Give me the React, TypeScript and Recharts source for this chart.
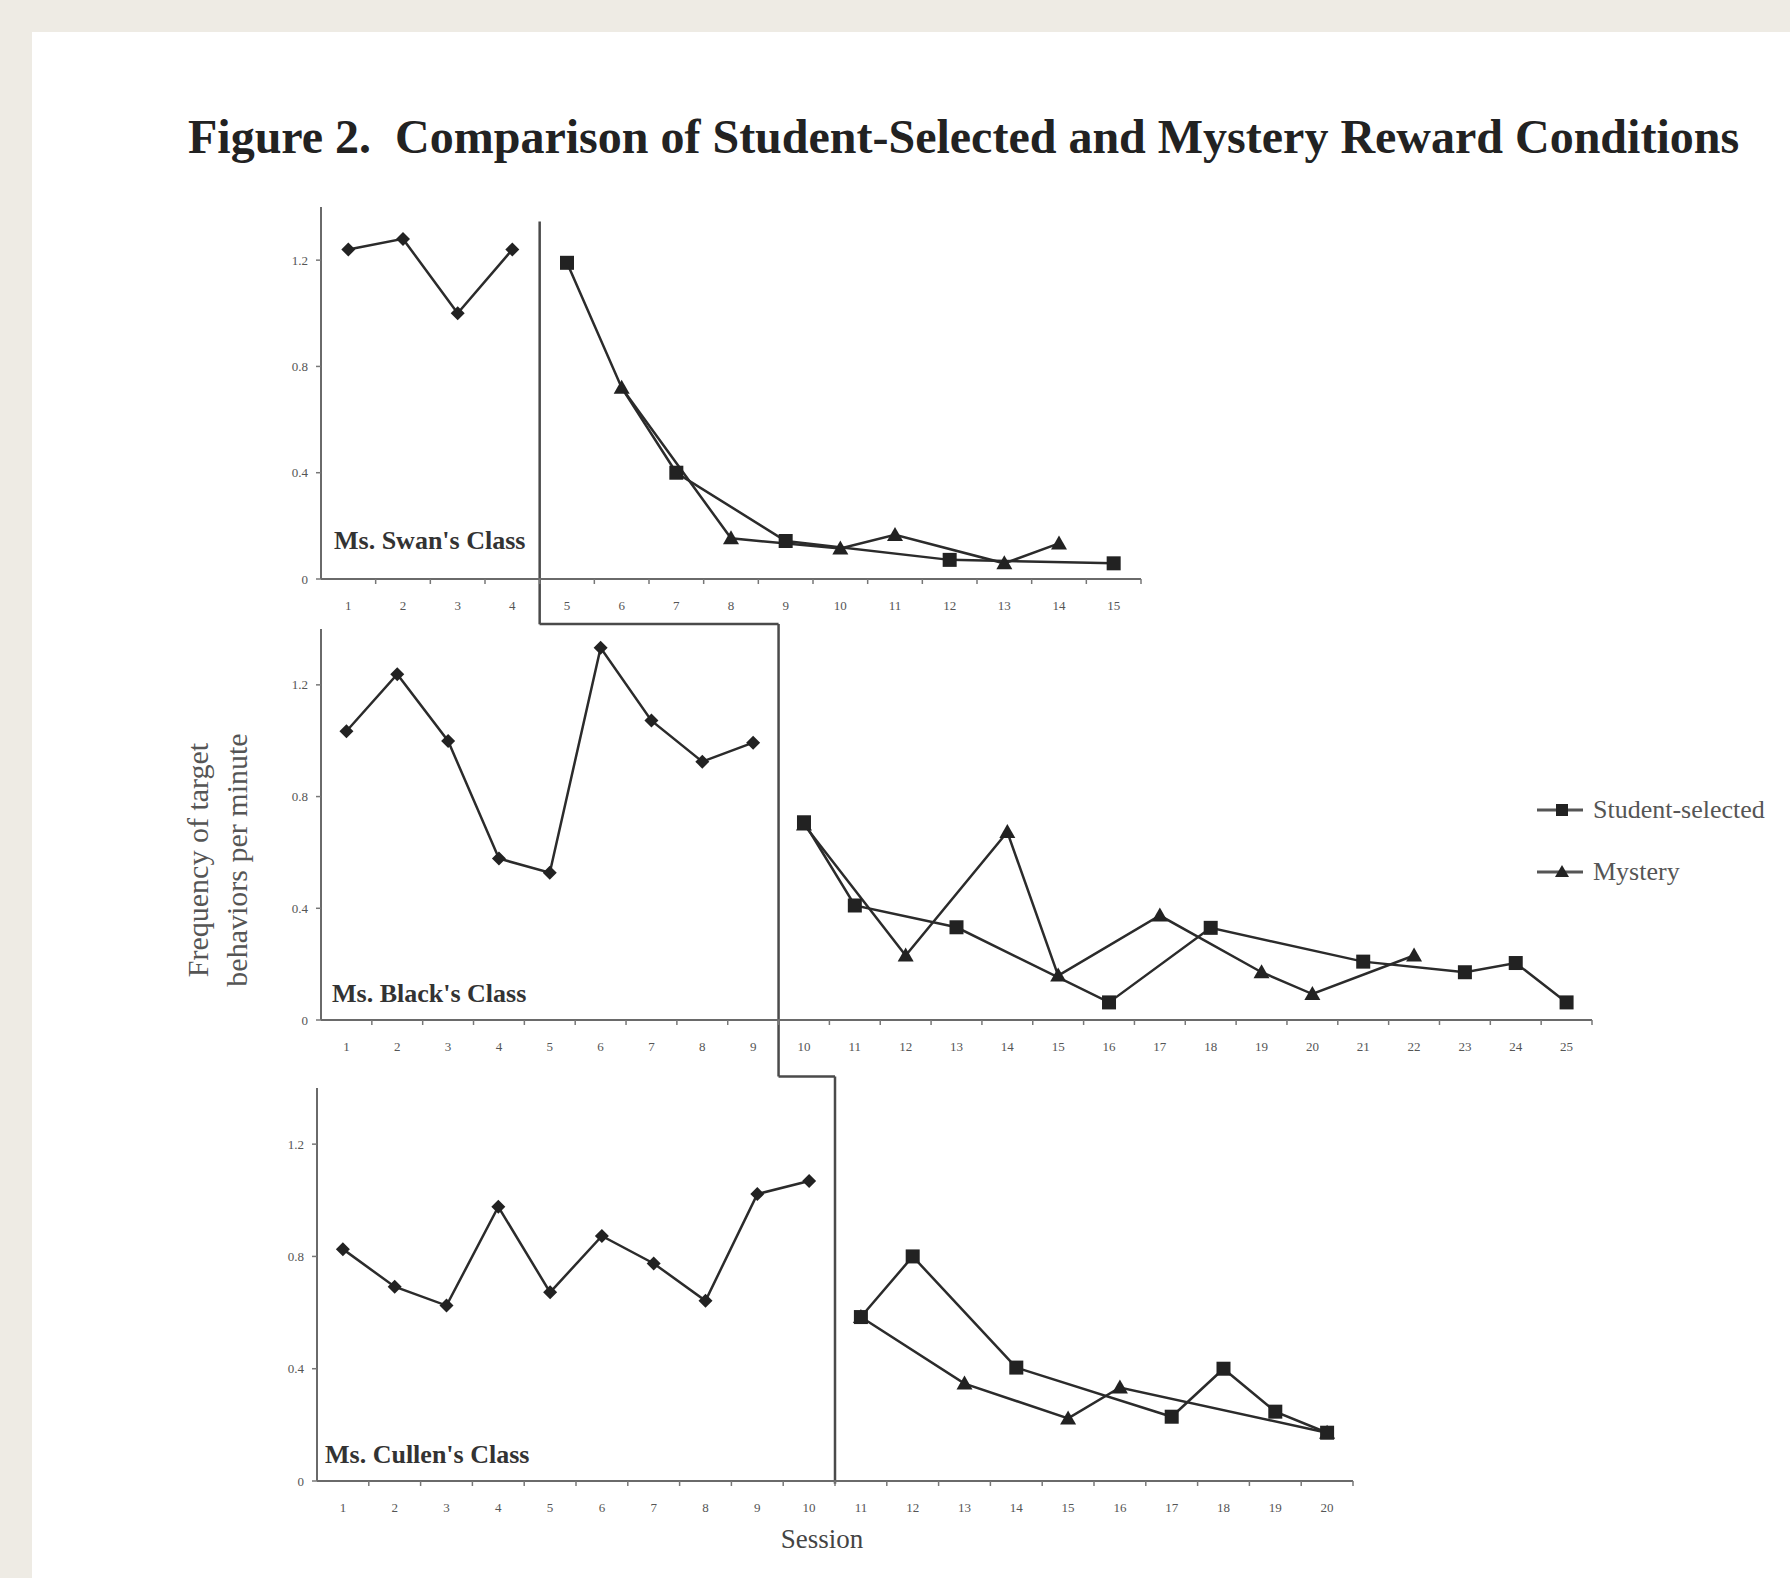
import { LineChart, Line, XAxis, YAxis, ReferenceLine, Legend, Label } from 'recharts'

const PAGE_W = 1790
const PAGE_H = 1578
const FONT = '"Liberation Serif", "DejaVu Serif", serif'
const INK = '#2b2b2b'

// ---- data ----
const swanSessions = [1, 2, 3, 4, 5, 6, 7, 8, 9, 10, 11, 12, 13, 14, 15]
const swanBaseline = [1.24, 1.28, 1.0, 1.24, null, null, null, null, null, null, null, null, null, null, null]
const swanStudent = [null, null, null, null, 1.19, 0.72, 0.4, null, 0.143, null, null, 0.072, null, null, 0.059]
const swanMystery = [null, null, null, null, null, 0.72, null, 0.153, null, 0.115, 0.166, null, 0.059, 0.134, null]

const blackSessions = [1, 2, 3, 4, 5, 6, 7, 8, 9, 10, 11, 12, 13, 14, 15, 16, 17, 18, 19, 20, 21, 22, 23, 24, 25]
const blackBaseline = [1.034, 1.238, 0.999, 0.578, 0.527, 1.333, 1.072, 0.925, 0.993, null, null, null, null, null, null, null, null, null, null, null, null, null, null, null, null]
const blackStudent = [null, null, null, null, null, null, null, null, null, 0.708, 0.41, null, 0.332, null, null, 0.063, null, 0.33, null, null, 0.209, null, 0.171, 0.204, 0.063]
const blackMystery = [null, null, null, null, null, null, null, null, null, 0.7, null, 0.231, null, 0.673, 0.159, null, 0.374, null, 0.171, 0.093, null, 0.231, null, null, null]

const cullenSessions = [1, 2, 3, 4, 5, 6, 7, 8, 9, 10, 11, 12, 13, 14, 15, 16, 17, 18, 19, 20]
const cullenBaseline = [0.826, 0.692, 0.625, 0.977, 0.672, 0.873, 0.775, 0.642, 1.022, 1.069, null, null, null, null, null, null, null, null, null, null]
const cullenStudent = [null, null, null, null, null, null, null, null, null, null, 0.584, 0.8, null, 0.404, null, null, 0.229, 0.4, 0.247, 0.172]
const cullenMystery = [null, null, null, null, null, null, null, null, null, null, 0.584, null, 0.347, null, 0.223, 0.333, null, null, null, 0.172]

const yTicks = [0, 0.4, 0.8, 1.2]

// phase-change line pieces, in each panel's own data units
const swanPhase = [[{ x: 4.5, y: 1.345 }, { x: 4.5, y: -0.17 }]]
const blackPhase = [
  [{ x: 4.8, y: 1.418 }, { x: 9.5, y: 1.418 }],
  [{ x: 9.5, y: 1.418 }, { x: 9.5, y: -0.2025 }],
]
const cullenPhase = [
  [{ x: 9.41, y: 1.441 }, { x: 10.5, y: 1.441 }],
  [{ x: 10.5, y: 1.441 }, { x: 10.5, y: -0.01 }],
]

const legendItems = [
  { name: 'Student-selected', shape: 'square' },
  { name: 'Mystery', shape: 'triangle' },
]

const buildRows = (sessions, baseline, student, mystery) =>
  sessions.map((s, i) => ({ session: s, baseline: baseline[i], student: student[i], mystery: mystery[i] }))

// ---- markers ----
const squareDot = (p) =>
  p.cx == null || p.cy == null ? (
    <g key={`s-${p.index}`} />
  ) : (
    <rect key={`s-${p.index}`} x={p.cx - 7} y={p.cy - 7} width={14} height={14} fill="#222" />
  )

// top panel: where both conditions share a session the triangle is what shows
const squareUnlessShared = (p) =>
  p.payload && p.payload.mystery != null ? <g key={`s-${p.index}`} /> : squareDot(p)

const triangleDot = (p) =>
  p.cx == null || p.cy == null ? (
    <g key={`t-${p.index}`} />
  ) : (
    <polygon
      key={`t-${p.index}`}
      points={`${p.cx},${p.cy - 8} ${p.cx - 8},${p.cy + 6} ${p.cx + 8},${p.cy + 6}`}
      fill="#222"
    />
  )

const diamondDot = (p) =>
  p.cx == null || p.cy == null ? (
    <g key={`d-${p.index}`} />
  ) : (
    <polygon
      key={`d-${p.index}`}
      points={`${p.cx},${p.cy - 7} ${p.cx + 7},${p.cy} ${p.cx},${p.cy + 7} ${p.cx - 7},${p.cy}`}
      fill="#222"
    />
  )

function SessionTick({ x, y, payload, half }) {
  return (
    <g>
      <line x1={x + half} y1={y} x2={x + half} y2={y + 5} stroke="#777" strokeWidth={1.5} />
      <text x={x} y={y + 31} textAnchor="middle" fontSize={13} fill="#555" fontFamily={FONT}>
        {payload.value}
      </text>
    </g>
  )
}

function LegendBox() {
  return (
    <div style={{ fontFamily: FONT }}>
      {legendItems.map((item) => (
        <div key={item.name} style={{ display: 'flex', alignItems: 'center', height: 62 }}>
          <svg width={50} height={30}>
            <line x1={2} y1={15} x2={48} y2={15} stroke="#555" strokeWidth={3} />
            {item.shape === 'square' ? (
              <rect x={21} y={9} width={12} height={12} fill="#222" />
            ) : (
              <polygon points="27,8 20,20 34,20" fill="#222" />
            )}
          </svg>
          <span style={{ marginLeft: 8, fontSize: 26, color: '#555', whiteSpace: 'nowrap' }}>{item.name}</span>
        </div>
      ))}
    </div>
  )
}

type PanelProps = {
  sessions: number[]
  rows: any[]
  phase: { x: number; y: number }[][]
  top: number
  height: number
  marginTop: number
  marginBottom: number
  plotLeft: number
  plotRight: number
  xAxisHeight?: number
  withLegend?: boolean
  withSessionLabel?: boolean
  triangleWins?: boolean
}

function Panel({
  sessions,
  rows,
  phase,
  top,
  height,
  marginTop,
  marginBottom,
  plotLeft,
  plotRight,
  xAxisHeight = 30,
  withLegend,
  withSessionLabel,
  triangleWins,
}: PanelProps) {
  const yAxisWidth = 60
  const half = (plotRight - plotLeft) / sessions.length / 2

  return (
    <div style={{ position: 'absolute', left: 0, top }}>
      <LineChart
        width={PAGE_W}
        height={height}
        data={rows}
        margin={{ top: marginTop, right: PAGE_W - plotRight, bottom: marginBottom, left: plotLeft - yAxisWidth }}
      >
        <XAxis
          dataKey="session"
          type="number"
          domain={[0.5, sessions.length + 0.5]}
          ticks={sessions}
          interval={0}
          allowDataOverflow
          height={xAxisHeight}
          tickLine={false}
          tickSize={0}
          tickMargin={0}
          axisLine={{ stroke: '#6a6a6a', strokeWidth: 2 }}
          tick={(p) => <SessionTick {...p} half={half} />}
        >
          {withSessionLabel && (
            <Label
              value="Session"
              position="insideBottom"
              offset={3}
              dx={-13}
              style={{ fontFamily: FONT, fontSize: 27, fill: '#444' }}
            />
          )}
        </XAxis>
        <YAxis
          type="number"
          domain={[0, 1.4]}
          ticks={yTicks}
          allowDataOverflow
          width={yAxisWidth}
          tickSize={5}
          tickMargin={8}
          tickFormatter={(v) => (v === 0 ? '0' : v.toFixed(1))}
          tick={{ fontSize: 13, fill: '#555', fontFamily: FONT }}
          tickLine={{ stroke: '#777', strokeWidth: 1.5 }}
          axisLine={{ stroke: '#6a6a6a', strokeWidth: 2 }}
        />
        {phase.map((seg, i) => (
          <ReferenceLine key={i} segment={seg} ifOverflow="visible" stroke="#4a4a4a" strokeWidth={2.5} />
        ))}
        <Line
          dataKey="baseline"
          stroke={INK}
          strokeWidth={2.5}
          connectNulls
          dot={diamondDot}
          activeDot={false}
          isAnimationActive={false}
        />
        <Line
          dataKey="mystery"
          stroke={INK}
          strokeWidth={2.5}
          connectNulls
          dot={triangleDot}
          activeDot={false}
          isAnimationActive={false}
        />
        <Line
          dataKey="student"
          stroke={INK}
          strokeWidth={2.5}
          connectNulls
          dot={triangleWins ? squareUnlessShared : squareDot}
          activeDot={false}
          isAnimationActive={false}
        />
        {withLegend && (
          <Legend
            layout="vertical"
            align="center"
            verticalAlign="middle"
            wrapperStyle={{ left: 1535, top: 179, width: 255 }}
            content={() => <LegendBox />}
          />
        )}
      </LineChart>
    </div>
  )
}

const classLabel = (text, left, centerY) => (
  <div
    style={{
      position: 'absolute',
      left,
      top: centerY - 14,
      fontFamily: FONT,
      fontSize: 26,
      fontWeight: 'bold',
      lineHeight: '28px',
      color: '#333',
      whiteSpace: 'nowrap',
    }}
  >
    {text}
  </div>
)

export default function App() {
  return (
    <div style={{ position: 'relative', width: PAGE_W, height: PAGE_H, background: '#eeebe4', overflow: 'hidden' }}>
      <style>{'body{margin:0}'}</style>
      <div style={{ position: 'absolute', left: 32, top: 32, right: 0, bottom: 0, background: '#ffffff' }} />

      <div
        style={{
          position: 'absolute',
          left: 188,
          top: 113,
          fontFamily: FONT,
          fontSize: 48,
          lineHeight: '48px',
          fontWeight: 'bold',
          color: '#222',
          whiteSpace: 'nowrap',
        }}
      >
        Figure 2.&nbsp; Comparison of Student-Selected and Mystery Reward Conditions
      </div>

      <Panel
        sessions={swanSessions}
        rows={buildRows(swanSessions, swanBaseline, swanStudent, swanMystery)}
        phase={swanPhase}
        top={150}
        height={489}
        marginTop={57}
        marginBottom={30}
        plotLeft={321}
        plotRight={1141}
        triangleWins
      />
      <Panel
        sessions={blackSessions}
        rows={buildRows(blackSessions, blackBaseline, blackStudent, blackMystery)}
        phase={blackPhase}
        top={600}
        height={490}
        marginTop={29}
        marginBottom={40}
        plotLeft={321}
        plotRight={1592}
        withLegend
      />
      <Panel
        sessions={cullenSessions}
        rows={buildRows(cullenSessions, cullenBaseline, cullenStudent, cullenMystery)}
        phase={cullenPhase}
        top={1060}
        height={511}
        marginTop={28}
        marginBottom={20}
        plotLeft={317}
        plotRight={1353}
        xAxisHeight={70}
        withSessionLabel
      />

      {classLabel("Ms. Swan's Class", 334, 541)}
      {classLabel("Ms. Black's Class", 332, 994)}
      {classLabel("Ms. Cullen's Class", 325, 1455)}

      <div
        style={{
          position: 'absolute',
          left: 17,
          top: 821,
          width: 400,
          height: 78,
          transform: 'rotate(-90deg)',
          fontFamily: FONT,
          fontSize: 30,
          lineHeight: '39px',
          color: '#555',
          textAlign: 'center',
          whiteSpace: 'nowrap',
        }}
      >
        Frequency of target
        <br />
        behaviors per minute
      </div>
    </div>
  )
}
